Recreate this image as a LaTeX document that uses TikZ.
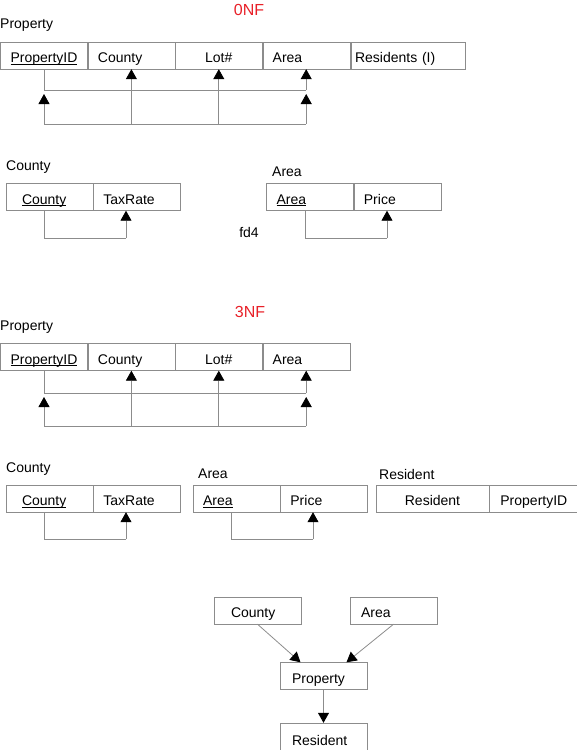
\documentclass[tikz,border=0pt]{standalone}
\usepackage{fontspec}
\setmainfont{Liberation Sans}
\usetikzlibrary{arrows.meta}
\usetikzlibrary{positioning}
\definecolor{linegray}{RGB}{140,140,140}
\definecolor{nfred}{RGB}{232,32,40}
\newcommand{\pk}[1]{\setbox0\hbox{#1}\rlap{\rule[-1.8pt]{\wd0}{0.8pt}}\box0}
\begin{document}
\begin{tikzpicture}[x=1pt,y=-1pt,node distance=0pt,
  cell/.style={draw=linegray,minimum width=87pt,minimum height=27pt,inner sep=0pt,
    text height=16pt,text depth=2pt,font=\fontsize{14}{16}\selectfont},
  lcell/.style={cell,align=left,inner xsep=10pt,text width=67pt},
  title/.style={font=\fontsize{16}{18}\selectfont,text=nfred},
  tname/.style={anchor=west,inner sep=0pt,font=\fontsize{14}{16}\selectfont},
  link/.style={draw=linegray,line width=0.8pt},
  fd/.style={link,-{Triangle[width=11pt,length=10pt,color=black]}}]
\useasboundingbox (0,0) rectangle (576,750);

% 0NF
\node[title] (nf0) at (249,10) {0NF};
\node[tname] (prop0) at (0,25) {Property};
\node[cell] (pid) at (44,55.5) {\pk{PropertyID}};
\node[lcell,right=of pid] (cty) {County};
\node[cell,right=of cty] (lot) {Lot\#};
\node[lcell,right=of lot] (area) {Area};
\node[lcell,right=1pt of area,inner xsep=4pt,text width=106pt,minimum width=114pt] (res) {Residents (I)};
\coordinate (up0) at (0,90);
\coordinate (lo0) at (0,124);
\draw[link] (pid) -- (pid |- up0) -- (area |- up0);
\draw[fd] (area |- up0) -- (area);
\draw[link] (pid |- lo0) -- (area |- lo0);
\draw[fd,shorten >=4pt] (pid |- lo0) -- (pid |- up0);
\draw[fd,shorten >=4pt] (area |- lo0) -- (area |- up0);
\draw[fd] (cty |- lo0) -- (cty);
\draw[fd] (lot |- lo0) -- (lot);

% County and Area
\node[tname] (cty2t) at (6,167) {County};
\node[lcell,inner xsep=16pt,text width=55pt] (cty2) at (49.5,197) {\pk{County}};
\node[lcell,right=of cty2] (tax2) {TaxRate};
\coordinate (c2a) at (44,238);
\coordinate (c2b) at (126,238);
\draw[link] (c2a |- cty2.south) -- (c2a) -- (c2b);
\draw[fd] (c2b) -- (c2b |- tax2.south);
\node[tname] (area2t) at (272,172) {Area};
\node[lcell] (area2) at (310,197) {\pk{Area}};
\node[lcell,right=of area2] (price2) {Price};
\coordinate (a2a) at (305,238);
\coordinate (a2b) at (387,238);
\draw[link] (a2a |- area2.south) -- (a2a) -- (a2b);
\draw[fd] (a2b) -- (a2b |- price2.south);
\node[tname,anchor=center] (fd4) at (249,232) {fd4};

% 3NF
\node[title] (nf3) at (250,312) {3NF};
\node[tname] (prop3) at (0,327) {Property};
\node[cell] (pidB) at (44,357) {\pk{PropertyID}};
\node[lcell,right=of pidB] (ctyB) {County};
\node[cell,right=of ctyB] (lotB) {Lot\#};
\node[lcell,right=of lotB] (areaB) {Area};
\coordinate (up3) at (0,393);
\coordinate (lo3) at (0,426);
\draw[link] (pidB) -- (pidB |- up3) -- (areaB |- up3);
\draw[fd] (areaB |- up3) -- (areaB);
\draw[link] (pidB |- lo3) -- (areaB |- lo3);
\draw[fd,shorten >=4pt] (pidB |- lo3) -- (pidB |- up3);
\draw[fd,shorten >=4pt] (areaB |- lo3) -- (areaB |- up3);
\draw[fd] (ctyB |- lo3) -- (ctyB);
\draw[fd] (lotB |- lo3) -- (lotB);

% County, Area and Resident
\node[tname] (cty3t) at (6,469) {County};
\node[lcell,inner xsep=16pt,text width=55pt] (cty3) at (49.5,498.5) {\pk{County}};
\node[lcell,right=of cty3] (tax3) {TaxRate};
\coordinate (c3a) at (44,539);
\coordinate (c3b) at (126,539);
\draw[link] (c3a |- cty3.south) -- (c3a) -- (c3b);
\draw[fd] (c3b) -- (c3b |- tax3.south);
\node[tname] (area3t) at (198,474) {Area};
\node[lcell] (area3) at (236.5,498.5) {\pk{Area}};
\node[lcell,right=of area3] (price3) {Price};
\coordinate (a3a) at (231,539);
\coordinate (a3b) at (313,539);
\draw[link] (a3a |- area3.south) -- (a3a) -- (a3b);
\draw[fd] (a3b) -- (a3b |- price3.south);
\node[tname] (resid3t) at (379,474) {Resident};
\node[cell,minimum width=113pt] (resid3) at (432.5,498.5) {Resident};
\node[lcell,right=of resid3,inner xsep=11pt,text width=68pt] (pid3) {PropertyID};

% dependency graph
\node[lcell,inner xsep=17pt,text width=53pt] (dcty) at (257.5,610.5) {County};
\node[lcell,inner xsep=11pt,text width=65pt] (darea) at (393.5,610.5) {Area};
\node[lcell,inner xsep=12pt,text width=63pt] (dprop) at (323.5,676) {Property};
\node[lcell,inner xsep=12pt,text width=63pt,minimum height=30pt] (dres) at (323.5,738) {Resident};
\draw[fd] (dcty.south) -- ([xshift=-23pt]dprop.north);
\draw[fd] (darea.south) -- ([xshift=23pt]dprop.north);
\draw[fd] (dprop) -- (dres);
\end{tikzpicture}
\end{document}
